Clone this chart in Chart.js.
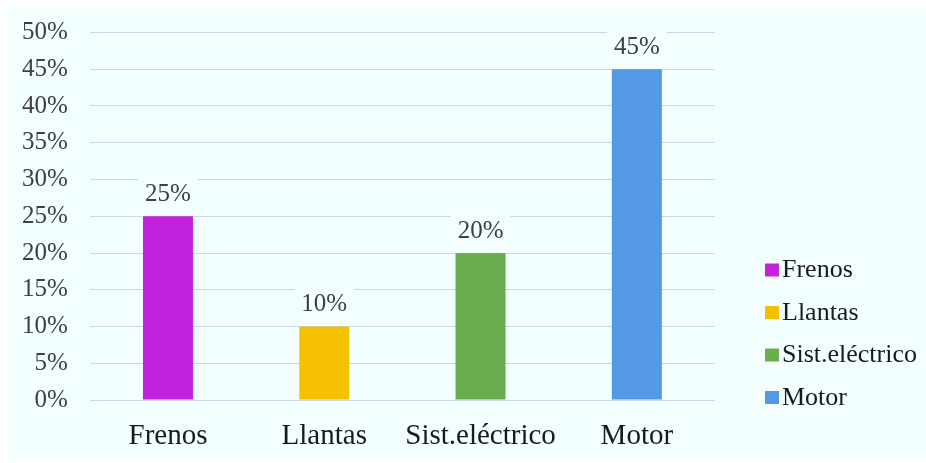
<!DOCTYPE html>
<html>
<head>
<meta charset="utf-8">
<script src="https://cdn.jsdelivr.net/npm/chart.js@4"></script>
<style>
  html, body { margin: 0; padding: 0; background: #ffffff; }
  #wrap { position: absolute; left: 8px; top: 8px; width: 918px; height: 452px; background: #f3feff; }
</style>
</head>
<body>
<div id="wrap"><canvas id="fallas"></canvas></div>
<script>
// Fallas por sistema (porcentaje)
let categorias = ['Frenos', 'Llantas', 'Sist.eléctrico', 'Motor'];
let porcentajes = [25, 10, 20, 45];
let colores = ['#c322dc', '#f5c000', '#6aad4f', '#5499e5'];
let ticksY = [0, 5, 10, 15, 20, 25, 30, 35, 40, 45, 50];

const serif = '"Liberation Serif", "Times New Roman", serif';
const fondo = '#f3feff';

// etiquetas de valor encima de cada barra, con fondo para tapar la cuadricula
const etiquetas = {
  id: 'etiquetas',
  afterDatasetsDraw(chart) {
    const ctx = chart.ctx;
    const meta = chart.getDatasetMeta(0);
    ctx.save();
    ctx.font = '25px ' + serif;
    ctx.textAlign = 'center';
    ctx.textBaseline = 'middle';
    meta.data.forEach((bar, i) => {
      const txt = porcentajes[i] + '%';
      const y = bar.y - 23;
      const w = ctx.measureText(txt).width + 14;
      ctx.fillStyle = fondo;
      ctx.fillRect(bar.x - w / 2, y - 15, w, 30);
      ctx.fillStyle = '#404040';
      ctx.fillText(txt, bar.x, y + 1);
    });
    ctx.restore();
  }
};

// leyenda a la derecha, alineada con la base del area de trazado
const leyenda = {
  id: 'leyenda',
  afterDraw(chart) {
    const ctx = chart.ctx;
    const area = chart.chartArea;
    const x = 757;
    ctx.save();
    ctx.font = '26px ' + serif;
    ctx.textAlign = 'left';
    ctx.textBaseline = 'middle';
    categorias.forEach((c, i) => {
      const y = area.bottom - 3 - (categorias.length - 1 - i) * 42.5;
      ctx.fillStyle = colores[i];
      ctx.fillRect(x, y - 6, 14, 13);
      ctx.fillStyle = '#1a1a1a';
      ctx.fillText(c, x + 17, y + 1);
    });
    ctx.restore();
  }
};

let ctx = document.getElementById('fallas').getContext('2d');
let grafico = new Chart(ctx, {
  type: 'bar',
  data: {
    labels: categorias,
    datasets: [{
      data: porcentajes,
      backgroundColor: colores,
      barPercentage: 0.32,
      categoryPercentage: 1
    }]
  },
  options: {
    responsive: true,
    maintainAspectRatio: false,
    animation: false,
    layout: { padding: { top: 0, left: -8, right: 211, bottom: -12 } },
    plugins: {
      tooltip: { enabled: false },
      legend: { display: false }
    },
    scales: {
      x: {
        grid: { display: false, drawTicks: false },
        border: { display: false },
        ticks: {
          color: '#1a1a1a',
          padding: 21.5,
          autoSkip: false,
          maxRotation: 0,
          font: { family: serif, size: 29, lineHeight: 1 }
        }
      },
      y: {
        min: 0,
        max: 50,
        afterBuildTicks(axis) {
          axis.ticks = ticksY.map(v => ({ value: v }));
        },
        grid: { color: '#cdd5ea', lineWidth: 1, drawTicks: false },
        border: { display: false },
        ticks: {
          color: '#404040',
          padding: 22,
          autoSkip: false,
          font: { family: serif, size: 25, lineHeight: 0.2 },
          callback: v => v + '%'
        }
      }
    }
  },
  plugins: [etiquetas, leyenda]
});
</script>
</body>
</html>
